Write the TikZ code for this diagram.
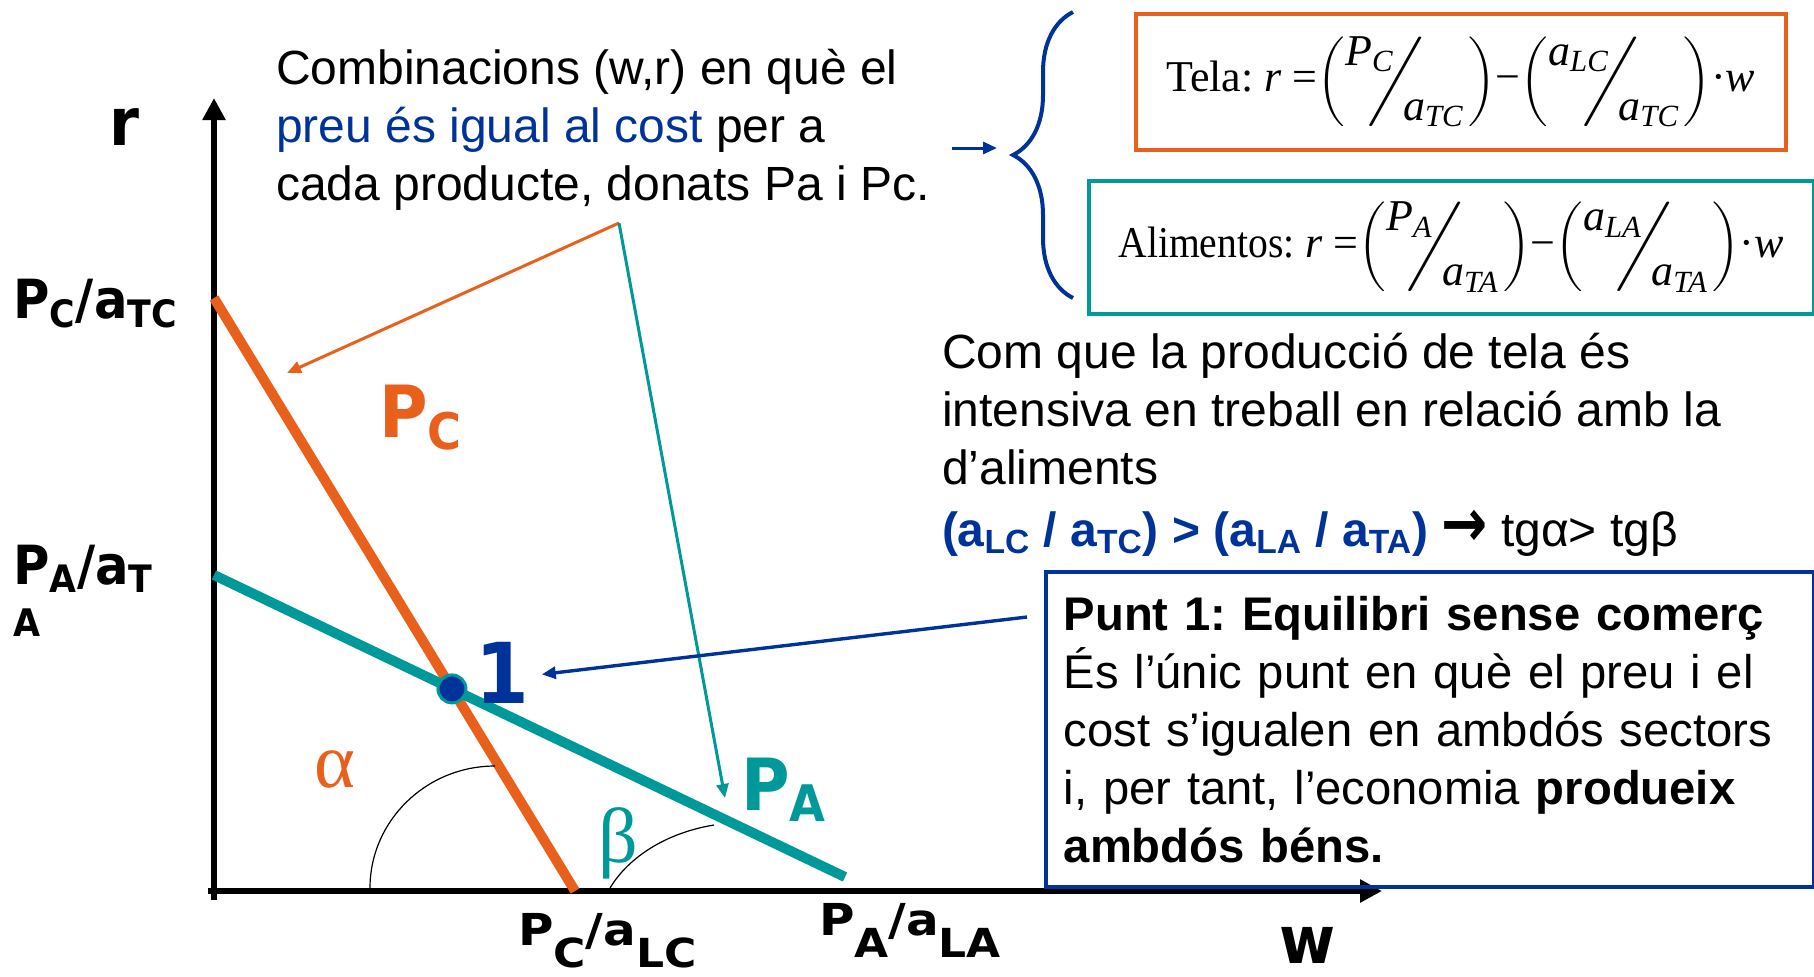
\RequirePackage{fix-cm}
\documentclass[tikz,border=0pt]{standalone}
\usepackage{amsmath}
\usepackage{fontspec}
\setmainfont{Liberation Sans}
\newfontfamily\verdfont{DejaVu Sans}[FakeStretch=0.92]
\newfontfamily\wideverd{DejaVu Sans}[FakeStretch=1.1]
\newfontfamily\timesfont{Liberation Serif}
\usetikzlibrary{arrows.meta, decorations.pathreplacing}
\definecolor{corange}{HTML}{E8601C}
\definecolor{cteal}{HTML}{009999}
\definecolor{cblue}{HTML}{003399}
\frenchspacing
\newcommand{\dl}[1]{\scalebox{0.9}{$#1$}}
\newcommand{\slfrac}[2]{\dl{\biggl(}\raisebox{0.6em}{#1}\kern-0.62em\scalebox{1.35}[0.9]{$\biggl/$}\kern-0.5em\raisebox{-0.65em}{#2}\kern0.1em\dl{\biggr)}}
\newcommand{\iv}[1]{\textit{#1}}
\newcommand{\bsub}[1]{\raisebox{-11pt}{\fontsize{20}{20}\selectfont #1}}
\tikzset{
  every picture/.style={line width=1pt},
  axis/.style={line width=3pt, -{Triangle[length=11pt, width=11pt]}},
  budget/.style={draw=#1, line width=5pt},
  pointer/.style={draw=#1, line width=1.5pt, -{Triangle[length=7pt, width=6pt]}},
  axlabel/.style={font=\verdfont\bfseries\fontsize{27}{28}\selectfont, anchor=base west, inner sep=0pt},
  wlabel/.style={font=\wideverd\bfseries\fontsize{22}{22}\selectfont, anchor=base west, inner sep=0pt},
  greek/.style={font=\timesfont\fontsize{39}{39}\selectfont, anchor=base west, inner sep=0pt},
  body/.style={font=\fontsize{24}{29}\selectfont, align=left, anchor=base west, inner sep=0pt},
  eqbox/.style={draw=#1, line width=1.75pt, inner sep=0pt, anchor=north west, font=\timesfont\fontsize{22}{26}\selectfont},
}
\begin{document}
\begin{tikzpicture}[x=0.5pt, y=-0.5pt]
  \useasboundingbox (0,0) rectangle (1814,976);
  % axes
  \draw[axis] (214,900) -- (214,98);
  \draw[axis] (208,891) -- (1382,891);
  \node[axlabel, font=\verdfont\bfseries\fontsize{33}{33}\selectfont] (rlab) at (108,145) {r};
  \node[axlabel, font=\verdfont\bfseries\fontsize{33}{33}\selectfont] (wlab) at (1278,963) {w};
  % price = cost lines
  \coordinate (pc1) at (214,298);
  \coordinate (pc2) at (575,891);
  \coordinate (pa1) at (214,575);
  \coordinate (pa2) at (845,877);
  \draw[budget=corange] (pc1) -- (pc2);
  \draw[budget=cteal] (pa1) -- (pa2);
  \draw[line width=0.6pt] (370,888) .. controls (370,821) and (426,766) .. (495,766);
  \draw[line width=0.6pt] (610,888) .. controls (628,858) and (665,833) .. (714,825);
  \node[circle, fill=cblue, draw=cteal, line width=1.5pt, minimum size=14pt, inner sep=0pt] (dot)
    at (intersection of pc1--pc2 and pa1--pa2) {};
  % axis values
  \node[axlabel] (pctc) at (12,318) {P\textsubscript{C}/a\textsubscript{TC}};
  \node[axlabel, align=left] (pata) at (12,636) {P\textsubscript{A}/a\textsubscript{T}\\[-2pt]{\fontsize{19}{19}\selectfont A}};
  \node[wlabel] (pclc) at (517,945) {P\bsub{C}/a\bsub{LC}};
  \node[wlabel] (pala) at (818,935) {P\bsub{A}/a\bsub{LA}};
  % curve names and angles
  \node[axlabel, text=corange, font=\verdfont\bfseries\fontsize{36}{36}\selectfont] (pclab) at (378,437) {P\textsubscript{C}};
  \node[axlabel, text=cteal, font=\verdfont\bfseries\fontsize{36}{36}\selectfont] (palab) at (740,810) {P\textsubscript{A}};
  \node[axlabel, text=cblue, font=\verdfont\bfseries\fontsize{42}{42}\selectfont] (one) at (474,703) {1};
  \node[greek, text=corange] (alpha) at (313,787) {α};
  \node[greek, text=cteal] (beta) at (597,862) {β};
  % texts
  \node[body] (comb) at (275,200) {Combinacions (w,r) en què el\\
    \textcolor{cblue}{preu és igual al cost} per a\\
    cada producte, donats Pa i Pc.};
  \node[body] (com) at (941,546) {Com que la producció de tela és\\
    intensiva en treball en relació amb la\\
    d’aliments\\[2pt]
    {\bfseries\color{cblue}(a\textsubscript{LC} / a\textsubscript{TC}) > (a\textsubscript{LA} / a\textsubscript{TA})} \scalebox{1.25}[1.4]{\verdfont\bfseries →} tgα> tgβ};
  \node[draw=cblue, line width=1.75pt, anchor=north west, minimum width=384pt, minimum height=157.5pt,
    text width=366pt, inner xsep=9pt, align=left, font=\fontsize{23.6}{29}\selectfont] (punt) at (1044,570)
    {\textbf{Punt 1: Equilibri sense comerç}\\
    És l’únic punt en què el preu i el\\
    cost s’igualen en ambdós sectors\\
    i, per tant, l’economia \textbf{produeix}\\
    \textbf{ambdós béns.}};
  % equations
  \node[eqbox=corange, minimum width=325pt, minimum height=68pt] (tela) at (1134,12)
    {Tela: \iv{r} =\slfrac{\iv{P}\textsubscript{\iv{C}}}{\iv{a}\textsubscript{\iv{TC}}}−\slfrac{\iv{a}\textsubscript{\iv{LC}}}{\iv{a}\textsubscript{\iv{TC}}}·\iv{w}};
  \node[eqbox=cteal, minimum width=362.5pt, minimum height=66.5pt] (alim) at (1087,179)
    {\scalebox{0.9}[1]{Alimentos:} \iv{r} =\slfrac{\iv{P}\textsubscript{\iv{A}}}{\iv{a}\textsubscript{\iv{TA}}}−\slfrac{\iv{a}\textsubscript{\iv{LA}}}{\iv{a}\textsubscript{\iv{TA}}}·\iv{w}};
  \draw[cblue, line width=2pt, decorate, decoration={brace, amplitude=30pt, aspect=0.5}] (1073,298) -- (1073,12);
  % pointers
  \coordinate (combsrc) at (619,223);
  \coordinate (pcfoot) at (287,373);
  \coordinate (pafoot) at (725,798);
  \coordinate (puntsrc) at (1027,617);
  \coordinate (bracesrc) at (952,148);
  \coordinate (bracetip) at (997,148);
  \draw[pointer=corange] (combsrc) -- (pcfoot);
  \draw[pointer=cteal] (combsrc) -- (pafoot);
  \draw[pointer=cblue, line width=1.7pt] (puntsrc) -- ([xshift=6pt, yshift=-1pt]one.east);
  \draw[pointer=cblue] (bracesrc) -- (bracetip);
\end{tikzpicture}
\end{document}
